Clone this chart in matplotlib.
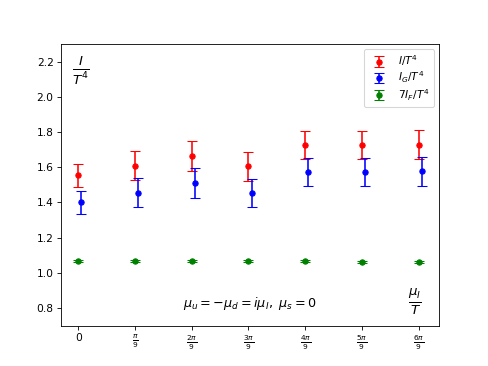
import numpy as np
import matplotlib
matplotlib.use("Agg")
import matplotlib.pyplot as plt

x_vals = np.arange(7) * np.pi / 9
x_labels = ['0', r'$\frac{\pi}{9}$', r'$\frac{2\pi}{9}$', r'$\frac{3\pi}{9}$',
            r'$\frac{4\pi}{9}$', r'$\frac{5\pi}{9}$', r'$\frac{6\pi}{9}$']

I_vals = [1.553, 1.609, 1.664, 1.605, 1.728, 1.726, 1.728]
I_err = [0.063, 0.083, 0.085, 0.081, 0.080, 0.081, 0.081]
IG_vals = [1.400, 1.456, 1.512, 1.452, 1.575, 1.574, 1.576]
IG_err = [0.063, 0.083, 0.085, 0.080, 0.080, 0.080, 0.080]
IF_vals = [1.067, 1.067, 1.067, 1.069, 1.068, 1.064, 1.060]
IF_err = [0.005, 0.005, 0.005, 0.005, 0.005, 0.005, 0.005]

blue_shift = 0.02

fig, ax = plt.subplots(figsize=(6.4, 4.8), dpi=76.25)
ax.errorbar(x_vals, I_vals, yerr=I_err, fmt='o', color='red', capsize=4.5,
            markersize=5, label=r'$I/T^4$')
ax.errorbar(x_vals + blue_shift, IG_vals, yerr=IG_err, fmt='o', color='blue', capsize=4.5,
            markersize=5, label=r'$I_G/T^4$')
ax.errorbar(x_vals, IF_vals, yerr=IF_err, fmt='o', color='green', capsize=4.5,
            markersize=5, label=r'$7I_F/T^4$')

ax.set_ylim(0.7, 2.3)
ax.set_xticks(x_vals)
ax.set_xticklabels(x_labels)
ax.legend(loc='upper right', labelspacing=0.15)

ax.text(0.03, 0.96, r'$\frac{I}{T^4}$', transform=ax.transAxes, fontsize=18,
        va='top', ha='left')
ax.text(0.935, 0.03, r'$\frac{\mu_I}{T}$', transform=ax.transAxes, fontsize=18,
        va='bottom', ha='center')
ax.text(0.5, 0.05, r'$\mu_u=-\mu_d=i\mu_I,\ \mu_s=0$', transform=ax.transAxes,
        fontsize=12, va='bottom', ha='center')

fig.savefig('out.png', dpi=76.25)
